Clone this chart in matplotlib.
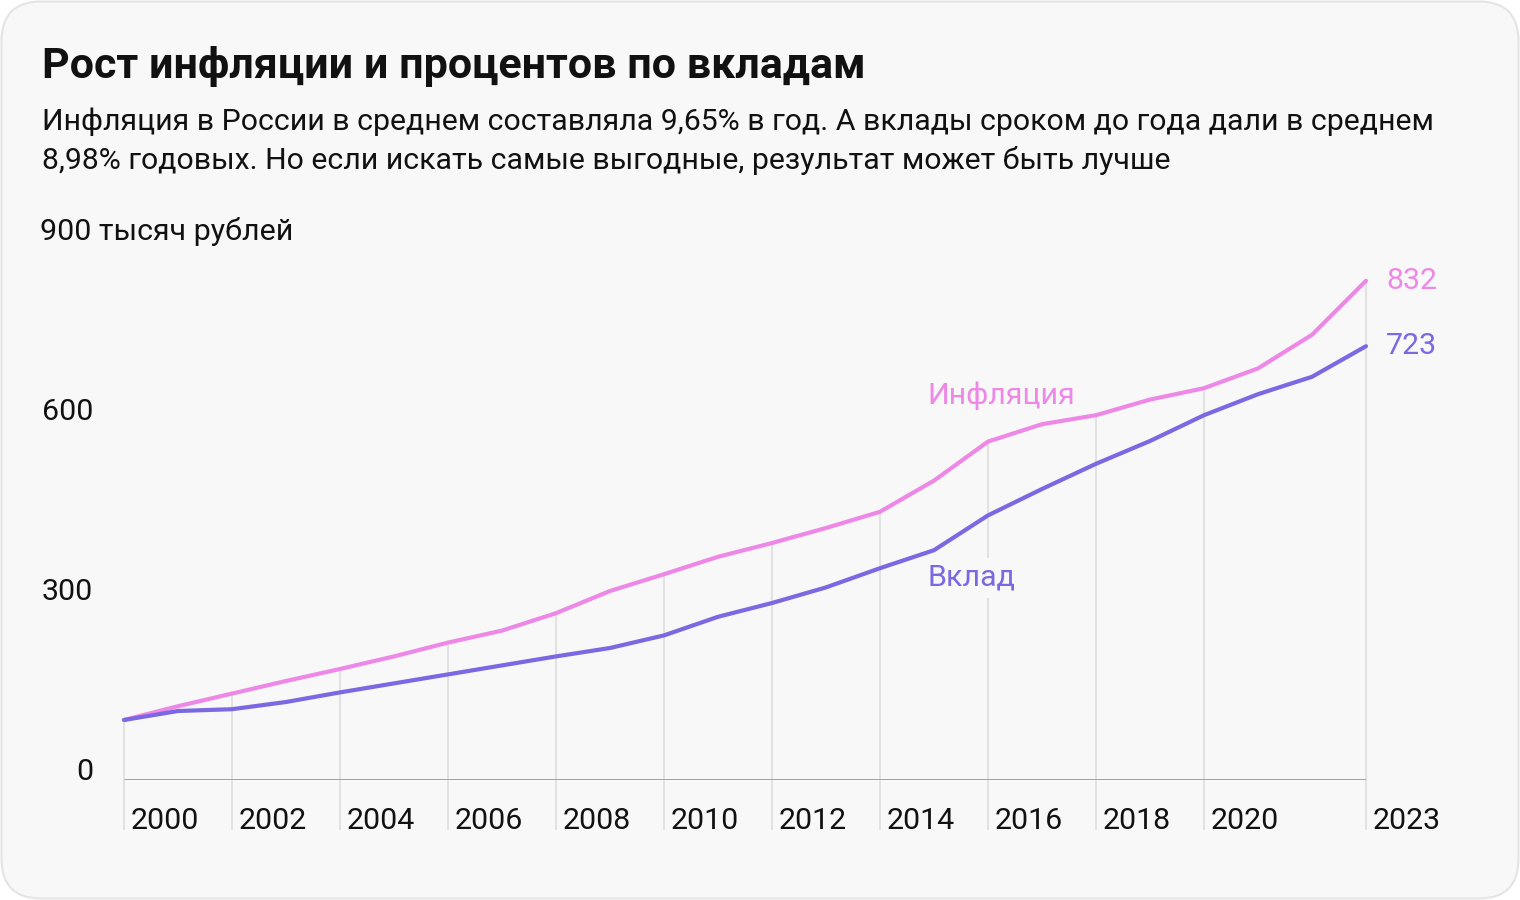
import matplotlib
matplotlib.use("Agg")
import matplotlib.pyplot as plt
from matplotlib.patches import FancyBboxPatch

plt.rcParams['font.family'] = ['Roboto', 'DejaVu Sans']

years = list(range(2000, 2024))
inflation = [100, 123, 144, 165, 185, 206, 229, 249, 278, 315, 343, 372,
             395, 420, 447, 499, 564, 593, 608, 634, 653, 686, 742, 832]
deposit = [100, 115, 118, 130, 146, 161, 176, 191, 206, 220, 241, 272,
           295, 321, 353, 383, 441, 485, 527, 565, 608, 643, 672, 723]
tick_years = [2000, 2002, 2004, 2006, 2008, 2010, 2012, 2014, 2016, 2018, 2020, 2023]
y_ticks = [0, 300, 600]
y_top_label = "900 тысяч рублей"

title = "Рост инфляции и процентов по вкладам"
subtitle1 = "Инфляция в России в среднем составляла 9,65% в год. А вклады сроком до года дали в среднем"
subtitle2 = "8,98% годовых. Но если искать самые выгодные, результат может быть лучше"

PINK = "#EE88E6"
VIOLET = "#7B68E3"
BG = "#F8F8F8"
FS = 21.9

W, H = 1520, 900
fig = plt.figure(figsize=(W / 100, H / 100), dpi=100, facecolor="white")

# rounded card background
card = FancyBboxPatch((1.5 / W, 1.5 / H), (W - 3) / W, (H - 3) / H,
                      boxstyle="round,pad=0,rounding_size=0.026",
                      transform=fig.transFigure, facecolor=BG,
                      edgecolor="#E4E4E4", linewidth=1.5, mutation_aspect=W / H,
                      zorder=-10)
fig.patches.append(card)

# axes mapping: 2000 -> x=124px, 2023 -> x=1366px; 0 -> y=780px, 900 -> y=240px
left, right = 124 / W, 1366 / W
bottom, top = (H - 780) / H, (H - 240) / H
ax = fig.add_axes([left, bottom, right - left, top - bottom])
ax.set_zorder(5)
ax.set_xlim(2000, 2023)
ax.set_ylim(0, 900)
ax.set_facecolor("none")
ax.axis("off")

px_per_year = 54.0
px_per_unit = 0.6

# vertical gridlines from below the axis up to the inflation line
for yr in tick_years:
    val = inflation[years.index(yr)]
    ax.vlines(yr, -50 / px_per_unit, val, colors="#E2E2E2", linewidth=1.5,
              clip_on=False, zorder=1)

# baseline
ax.hlines(0, 2000, 2023, colors="#999999", linewidth=2, zorder=2)

# lines
ax.plot(years, inflation, color=PINK, linewidth=3, solid_joinstyle="round",
        solid_capstyle="round", zorder=4, clip_on=False)
ax.plot(years, deposit, color=VIOLET, linewidth=3, solid_joinstyle="round",
        solid_capstyle="round", zorder=4, clip_on=False)

# x tick labels
for yr in tick_years:
    ax.text(yr + 7 / px_per_year, -(829 - 780) / px_per_unit, str(yr),
            ha="left", va="baseline", fontsize=FS, color="#111111", clip_on=False)

# y tick labels
for v in y_ticks:
    ax.text(2000 - 31 / px_per_year, v, str(v), ha="right", va="baseline",
            fontsize=FS, color="#111111", clip_on=False)
ax.text(2000 - 84 / px_per_year, 900, y_top_label, ha="left", va="baseline",
        fontsize=FS, color="#111111", clip_on=False)

# series labels (background hides gridlines, lines stay on top)
lab_x = 2000 + (927 - 124) / px_per_year
ax.text(lab_x, (780 - 396) / px_per_unit, "Инфляция", ha="left", va="center",
        fontsize=FS, color=PINK, zorder=3,
        bbox=dict(boxstyle="square,pad=0.2", facecolor=BG, edgecolor="none"))
ax.text(lab_x, (780 - 578) / px_per_unit, "Вклад", ha="left", va="center",
        fontsize=FS, color=VIOLET, zorder=3,
        bbox=dict(boxstyle="square,pad=0.2", facecolor=BG, edgecolor="none"))

# end values
end_x = 2023 + 20 / px_per_year
ax.text(end_x, inflation[-1], str(inflation[-1]), ha="left", va="center",
        fontsize=FS, color=PINK, clip_on=False)
ax.text(end_x, deposit[-1], str(deposit[-1]), ha="left", va="center",
        fontsize=FS, color=VIOLET, clip_on=False)

# title and subtitle
fig.text(42 / W, 1 - 78 / H, title, ha="left", va="baseline", fontsize=31,
         fontweight="bold", color="#111111")
fig.text(42 / W, 1 - 130 / H, subtitle1, ha="left", va="baseline", fontsize=21.8,
         color="#111111")
fig.text(42 / W, 1 - 169 / H, subtitle2, ha="left", va="baseline", fontsize=21.8,
         color="#111111")

fig.savefig("out.png", dpi=100, facecolor="white")
